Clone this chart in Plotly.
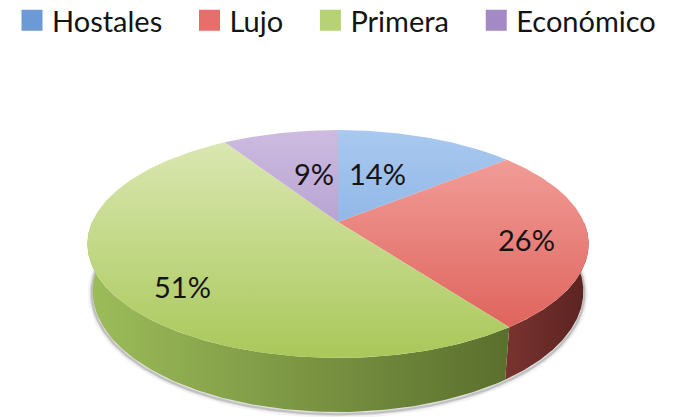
import numpy as np
import plotly.graph_objects as go

# ---- data -------------------------------------------------------------
categories = ["Hostales", "Lujo", "Primera", "Económico"]
values = [14, 26, 51, 9]

# ---- styles -----------------------------------------------------------
top_light = ["#a9c9ef", "#f4a6a1", "#dde9b6", "#cdbbe0"]
top_dark = ["#6f9fdc", "#dc5a53", "#a9c85a", "#9a82bf"]
wall_light = ["#5c86bd", "#7a332f", "#9dbd5a", "#7d66a0"]
wall_dark = ["#3f6595", "#5a2321", "#5a6f2d", "#5d4a7a"]
legend_colors = ["#6c9ad6", "#e86e6b", "#b7d275", "#a48ac5"]
label_xy = [(377, 173), (526, 239), (182, 286), (314, 173)]  # pixel anchors
FONT = "Lato, 'Open Sans', sans-serif"
TEXT_COLOR = "#141414"

W, H = 687, 417

# perspective projection of a tilted disc (pixel space, y measured upward)
CX, CY = 338.0, H - 222.0
FOCAL, DIST = 1141.0, 4.64
S_T, C_T = 0.446, 0.895
THICK = 0.2165


def project(theta_deg, r=1.0, z=0.0):
    t = np.radians(np.asarray(theta_deg, dtype=float))
    X = r * np.sin(t)
    Y = r * np.cos(t)
    up = Y * S_T + z * C_T
    depth = DIST + Y * C_T - z * S_T
    return CX + FOCAL * X / depth, CY + FOCAL * up / depth


total = float(sum(values))
bounds = np.concatenate([[0.0], np.cumsum(values) / total * 360.0])

fig = go.Figure()

# soft drop shadow along the lower rim
th_s = np.linspace(75, 285, 200)
xs, ys = project(th_s, 1.004, -THICK)
for width, alpha in [(8, 0.06), (4, 0.12), (2, 0.18)]:
    fig.add_trace(go.Scatter(
        x=xs, y=ys - 1.5, mode="lines",
        line=dict(width=width, color=f"rgba(60,60,60,{alpha})"),
        hoverinfo="skip", showlegend=False,
    ))

# side walls (front half only)
for i, cat in enumerate(categories):
    a, b = max(bounds[i], 90.0), min(bounds[i + 1], 270.0)
    if b <= a:
        continue
    th = np.linspace(a, b, 120)
    xt, yt = project(th, 1.0, 0.0)
    xb, yb = project(th[::-1], 1.0, -THICK)
    fig.add_trace(go.Scatter(
        x=np.concatenate([xt, xb, xt[:1]]),
        y=np.concatenate([yt, yb, yt[:1]]),
        mode="lines", fill="toself", line=dict(width=0, color=wall_dark[i]),
        fillgradient=dict(type="horizontal",
                          colorscale=[[0, wall_light[i]], [1, wall_dark[i]]]),
        hoverinfo="skip", showlegend=False,
    ))

# top faces
_, y_top = project(0.0)
_, y_bot = project(180.0)
for i, cat in enumerate(categories):
    th = np.linspace(bounds[i], bounds[i + 1], 200)
    xa, ya = project(th)
    fig.add_trace(go.Scatter(
        x=np.concatenate([[CX], xa, [CX]]),
        y=np.concatenate([[CY], ya, [CY]]),
        mode="lines", fill="toself", line=dict(width=0, color=top_dark[i]),
        fillgradient=dict(type="vertical", start=float(y_bot), stop=float(y_top),
                          colorscale=[[0, top_dark[i]], [1, top_light[i]]]),
        name=cat, hovertemplate=f"{cat}: {values[i]}%<extra></extra>",
        showlegend=False,
    ))

# legend entries
pad = "\u00a0" * 3
for i, cat in enumerate(categories):
    fig.add_trace(go.Scatter(
        x=[None], y=[None], mode="markers", name=cat + pad,
        marker=dict(symbol="square", size=16, color=legend_colors[i],
                    line=dict(width=5, color=legend_colors[i])),
        showlegend=True,
    ))

# percentage labels
for i, v in enumerate(values):
    lx, ly = label_xy[i]
    fig.add_annotation(x=lx, y=H - ly, text=f"{v}%", showarrow=False,
                       font=dict(family=FONT, size=29, color=TEXT_COLOR),
                       xanchor="center", yanchor="middle")

fig.update_layout(
    width=W, height=H, autosize=False,
    margin=dict(l=0, r=0, t=0, b=0, autoexpand=False),
    paper_bgcolor="white", plot_bgcolor="white",
    xaxis=dict(range=[0, W], visible=False, fixedrange=True),
    yaxis=dict(range=[0, H], visible=False, fixedrange=True),
    showlegend=True,
    legend=dict(orientation="h", x=12 / W, y=1.0 + 5 / H, xanchor="left", yanchor="top",
                font=dict(family=FONT, size=29, color=TEXT_COLOR),
                bgcolor="rgba(0,0,0,0)", borderwidth=0, itemsizing="trace"),
)

fig.write_html("out.html")
